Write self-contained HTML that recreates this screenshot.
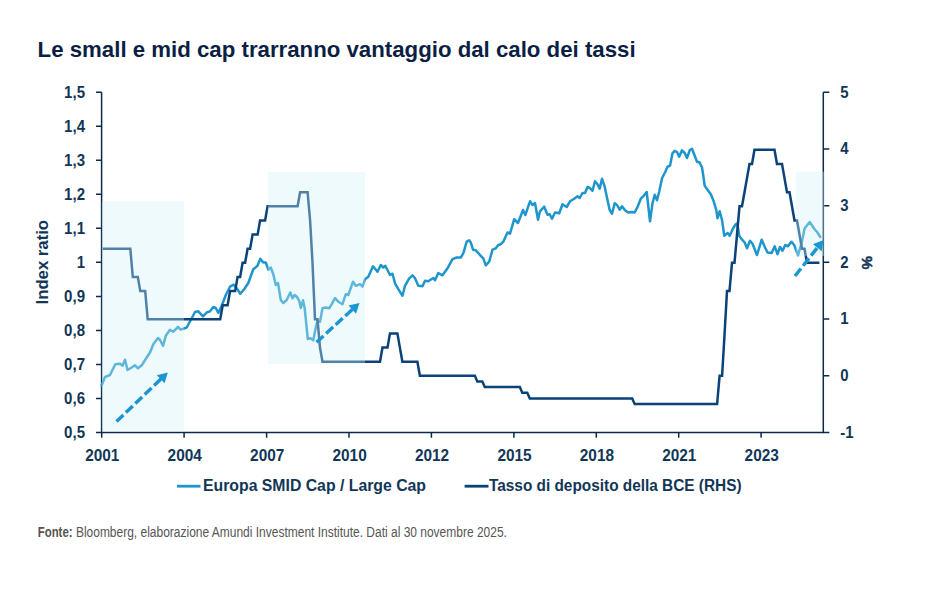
<!DOCTYPE html>
<html><head><meta charset="utf-8"><style>
html,body{margin:0;padding:0;background:#fff;}
body{width:926px;height:600px;overflow:hidden;}
svg{display:block;}
</style></head><body>
<svg width="926" height="600" viewBox="0 0 926 600">
<path d="M101.6,92.3 V432.4 H823.3 V92.3" fill="none" stroke="#0b2a4a" stroke-width="1.5"/>
<path d="M96,92.3H101.6 M96,126.3H101.6 M96,160.3H101.6 M96,194.3H101.6 M96,228.3H101.6 M96,262.3H101.6 M96,296.4H101.6 M96,330.4H101.6 M96,364.4H101.6 M96,398.4H101.6 M96,432.4H101.6 M823.3,92.3H829.3 M823.3,149.0H829.3 M823.3,205.7H829.3 M823.3,262.3H829.3 M823.3,319.0H829.3 M823.3,375.7H829.3 M823.3,432.4H829.3 M101.7,432.4V437.8 M184.1,432.4V437.8 M266.6,432.4V437.8 M349.0,432.4V437.8 M431.4,432.4V437.8 M513.9,432.4V437.8 M596.3,432.4V437.8 M678.7,432.4V437.8 M761.1,432.4V437.8" fill="none" stroke="#0b2a4a" stroke-width="1.5"/>
<polyline points="101.7,385.3 105.0,377.0 110.0,375.0 115.3,364.2 120.0,363.8 122.5,365.8 125.0,359.7 127.5,370.0 131.7,367.5 135.0,365.3 138.0,368.3 141.7,365.3 146.7,357.5 150.0,352.5 153.3,344.2 158.0,338.0 160.0,340.0 163.0,345.8 165.8,335.8 170.0,329.7 173.3,331.7 178.0,327.0 180.8,329.7 186.7,327.5 190.8,320.0 195.0,312.0 198.3,311.3 203.0,316.3 206.7,312.5 210.0,311.3 213.3,307.0 215.8,308.0 218.3,313.0 221.7,305.8 225.8,295.0 230.0,286.7 233.7,284.7 236.7,288.3 240.3,293.7 244.2,289.2 248.3,283.0 253.3,269.2 257.5,265.8 260.3,258.7 263.3,262.5 265.8,262.5 268.3,269.7 270.8,267.5 273.3,274.2 275.8,285.0 278.0,283.0 280.8,300.0 283.3,303.0 286.7,300.0 290.3,292.5 292.5,298.3 294.7,295.0 297.0,297.0 299.2,300.8 300.8,308.0 303.0,300.3 304.7,308.3 307.8,339.0 310.5,338.2 313.3,340.2 315.8,327.5 317.5,320.8 320.0,321.7 322.5,308.3 325.8,307.5 329.2,308.3 331.7,304.2 335.0,298.0 338.3,301.7 342.5,304.2 345.8,294.2 348.3,295.0 353.0,281.7 355.8,285.8 360.0,284.2 362.5,286.7 365.0,279.2 368.3,276.7 373.0,266.3 377.5,271.7 380.8,265.0 383.3,267.5 385.3,265.8 387.5,270.0 390.0,275.0 392.5,273.7 395.0,283.3 398.3,289.2 402.5,295.8 405.0,285.8 409.2,278.3 412.5,275.3 415.0,278.3 418.3,285.8 422.5,286.3 425.0,280.8 428.3,281.3 431.3,279.2 433.3,278.0 435.0,280.3 438.3,273.0 442.5,275.3 447.5,268.3 452.5,259.2 456.7,257.5 460.8,257.5 463.3,253.3 466.7,241.7 469.2,240.3 470.8,242.5 473.0,249.7 475.8,250.3 480.8,255.8 483.3,258.3 485.8,265.3 489.2,261.7 492.5,249.7 495.8,248.3 498.3,245.0 500.8,244.2 503.3,241.7 507.5,232.5 510.0,233.7 514.2,219.2 518.0,223.0 523.0,210.0 525.3,215.0 530.0,201.3 532.5,205.0 535.0,203.0 538.0,219.7 540.0,211.3 544.2,206.7 547.5,214.7 549.7,214.2 552.0,218.7 555.0,212.5 559.2,213.3 562.5,204.2 566.7,207.0 570.0,201.3 574.2,198.7 577.5,196.3 579.7,198.0 582.5,193.0 585.0,193.0 587.5,187.0 590.0,188.0 592.5,190.8 595.0,181.3 597.5,184.2 599.7,188.7 602.0,178.7 604.7,186.7 607.5,200.0 609.7,210.0 612.0,213.7 614.7,203.3 617.0,205.0 619.7,209.7 622.0,206.3 625.0,210.3 628.0,212.5 631.3,212.0 634.7,212.5 637.5,207.0 640.8,198.7 643.7,195.8 646.7,192.0 650.0,221.3 652.5,203.3 654.7,194.7 657.0,200.3 659.2,191.7 662.0,178.3 665.0,172.5 667.5,166.7 670.0,165.8 672.5,153.3 674.7,150.8 677.0,152.0 679.2,156.7 682.0,150.3 684.7,153.0 687.0,158.0 689.7,150.3 692.0,148.7 694.7,155.8 697.0,161.7 699.7,162.5 702.0,167.5 703.3,175.8 704.7,185.8 707.5,189.7 710.8,194.2 713.7,201.3 716.3,210.0 717.5,218.3 719.7,211.3 722.0,220.0 724.3,235.7 727.7,233.0 729.7,235.7 733.0,228.5 735.5,224.3 737.3,223.5 739.2,235.8 741.7,239.2 744.7,242.5 747.0,248.3 750.0,240.8 752.5,243.7 757.0,255.0 761.7,239.7 765.0,247.5 767.5,252.5 771.7,253.0 774.7,246.3 777.5,254.2 780.0,247.0 782.5,250.8 785.3,245.0 788.0,246.3 791.3,241.7 794.2,245.0 798.0,255.3 801.7,242.5 804.7,228.3 809.7,222.0 814.2,228.7 817.5,232.5 820.3,237.0" fill="none" stroke="#1e95cc" stroke-width="2.5" stroke-linejoin="round" stroke-linecap="round"/>
<polyline points="102.8,248.7 130.3,248.7 132.8,276.9 137.8,276.9 140.3,291.1 145.2,291.1 147.7,319.3 220.2,319.3 222.7,305.2 227.6,305.2 230.1,291.1 235.1,291.1 237.6,276.9 240.1,276.9 242.6,262.8 245.1,262.8 247.6,248.7 250.1,248.7 252.6,234.6 257.6,234.6 260.1,220.4 265.1,220.4 267.6,206.3 297.6,206.3 300.1,192.2 307.6,192.2 310.1,220.4 312.5,262.8 315.0,319.3 317.5,319.3 320.0,347.6 322.5,361.7 380.0,361.7 382.5,347.6 387.5,347.6 390.0,333.4 397.4,333.4 399.9,347.6 402.4,361.7 417.4,361.7 419.9,375.8 474.9,375.8 477.3,381.4 482.3,381.4 484.8,387.1 519.8,387.1 522.3,392.8 527.3,392.8 529.8,398.4 632.2,398.4 634.7,404.1 717.1,404.1 719.6,375.8 722.1,375.8 724.6,333.4 727.0,291.1 729.5,291.1 732.0,262.8 734.5,262.8 737.0,234.6 739.5,206.3 742.0,206.3 744.5,192.2 747.0,178.1 749.5,163.9 752.0,163.9 754.5,149.8 774.5,149.8 777.0,163.9 782.0,163.9 784.5,178.1 787.0,192.2 789.5,192.2 792.0,206.3 794.5,220.4 797.0,220.4 799.5,234.6 802.0,248.7 804.5,248.7 807.0,262.8 819.4,262.8" fill="none" stroke="#0a427a" stroke-width="2.5" stroke-linejoin="miter"/>
<rect x="101.8" y="201.5" width="82.2" height="230.1" fill="rgba(208,241,247,0.36)"/>
<rect x="267.8" y="172" width="97.2" height="192" fill="rgba(208,241,247,0.36)"/>
<rect x="795.8" y="171.7" width="28.7" height="84.3" fill="rgba(208,241,247,0.36)"/>
<line x1="116.5" y1="421.5" x2="161.4" y2="378.6" stroke="#1b96d0" stroke-width="3.4" stroke-dasharray="9.5,3.5"/><polygon points="167.8,372.5 164.6,383.3 156.8,375.2" fill="#1b96d0"/>
<line x1="316.5" y1="342.3" x2="353.0" y2="308.9" stroke="#1b96d0" stroke-width="3.4" stroke-dasharray="9.5,3.5"/><polygon points="359.5,303.0 356.0,313.7 348.5,305.5" fill="#1b96d0"/>
<line x1="795.0" y1="276.0" x2="818.0" y2="246.9" stroke="#1b96d0" stroke-width="3.4" stroke-dasharray="9.5,3.5"/><polygon points="823.5,240.0 821.8,251.2 813.0,244.2" fill="#1b96d0"/>
<text x="37.6" y="56.5" font-family="Liberation Sans, sans-serif" font-weight="bold" font-size="22.5" fill="#0b1f45" textLength="598" lengthAdjust="spacingAndGlyphs">Le small e mid cap trarranno vantaggio dal calo dei tassi</text>
<text x="85" y="97.6" font-family="Liberation Sans, sans-serif" font-weight="bold" font-size="16" fill="#123657" text-anchor="end" textLength="20.9" lengthAdjust="spacingAndGlyphs">1,5</text>
<text x="85" y="131.6" font-family="Liberation Sans, sans-serif" font-weight="bold" font-size="16" fill="#123657" text-anchor="end" textLength="20.9" lengthAdjust="spacingAndGlyphs">1,4</text>
<text x="85" y="165.6" font-family="Liberation Sans, sans-serif" font-weight="bold" font-size="16" fill="#123657" text-anchor="end" textLength="20.9" lengthAdjust="spacingAndGlyphs">1,3</text>
<text x="85" y="199.6" font-family="Liberation Sans, sans-serif" font-weight="bold" font-size="16" fill="#123657" text-anchor="end" textLength="20.9" lengthAdjust="spacingAndGlyphs">1,2</text>
<text x="85" y="233.6" font-family="Liberation Sans, sans-serif" font-weight="bold" font-size="16" fill="#123657" text-anchor="end" textLength="20.9" lengthAdjust="spacingAndGlyphs">1,1</text>
<text x="85" y="267.6" font-family="Liberation Sans, sans-serif" font-weight="bold" font-size="16" fill="#123657" text-anchor="end" textLength="8.3" lengthAdjust="spacingAndGlyphs">1</text>
<text x="85" y="301.7" font-family="Liberation Sans, sans-serif" font-weight="bold" font-size="16" fill="#123657" text-anchor="end" textLength="20.9" lengthAdjust="spacingAndGlyphs">0,9</text>
<text x="85" y="335.7" font-family="Liberation Sans, sans-serif" font-weight="bold" font-size="16" fill="#123657" text-anchor="end" textLength="20.9" lengthAdjust="spacingAndGlyphs">0,8</text>
<text x="85" y="369.7" font-family="Liberation Sans, sans-serif" font-weight="bold" font-size="16" fill="#123657" text-anchor="end" textLength="20.9" lengthAdjust="spacingAndGlyphs">0,7</text>
<text x="85" y="403.7" font-family="Liberation Sans, sans-serif" font-weight="bold" font-size="16" fill="#123657" text-anchor="end" textLength="20.9" lengthAdjust="spacingAndGlyphs">0,6</text>
<text x="85" y="437.7" font-family="Liberation Sans, sans-serif" font-weight="bold" font-size="16" fill="#123657" text-anchor="end" textLength="20.9" lengthAdjust="spacingAndGlyphs">0,5</text>
<text x="840.3" y="97.6" font-family="Liberation Sans, sans-serif" font-weight="bold" font-size="16" fill="#123657" textLength="8.3" lengthAdjust="spacingAndGlyphs">5</text>
<text x="840.3" y="154.3" font-family="Liberation Sans, sans-serif" font-weight="bold" font-size="16" fill="#123657" textLength="8.3" lengthAdjust="spacingAndGlyphs">4</text>
<text x="840.3" y="211.0" font-family="Liberation Sans, sans-serif" font-weight="bold" font-size="16" fill="#123657" textLength="8.3" lengthAdjust="spacingAndGlyphs">3</text>
<text x="840.3" y="267.6" font-family="Liberation Sans, sans-serif" font-weight="bold" font-size="16" fill="#123657" textLength="8.3" lengthAdjust="spacingAndGlyphs">2</text>
<text x="840.3" y="324.3" font-family="Liberation Sans, sans-serif" font-weight="bold" font-size="16" fill="#123657" textLength="8.3" lengthAdjust="spacingAndGlyphs">1</text>
<text x="840.3" y="381.0" font-family="Liberation Sans, sans-serif" font-weight="bold" font-size="16" fill="#123657" textLength="8.3" lengthAdjust="spacingAndGlyphs">0</text>
<text x="840.3" y="437.7" font-family="Liberation Sans, sans-serif" font-weight="bold" font-size="16" fill="#123657" textLength="13.3" lengthAdjust="spacingAndGlyphs">-1</text>
<text x="102.3" y="460.5" font-family="Liberation Sans, sans-serif" font-weight="bold" font-size="16" fill="#123657" text-anchor="middle" textLength="34.2" lengthAdjust="spacingAndGlyphs">2001</text>
<text x="184.7" y="460.5" font-family="Liberation Sans, sans-serif" font-weight="bold" font-size="16" fill="#123657" text-anchor="middle" textLength="34.2" lengthAdjust="spacingAndGlyphs">2004</text>
<text x="267.2" y="460.5" font-family="Liberation Sans, sans-serif" font-weight="bold" font-size="16" fill="#123657" text-anchor="middle" textLength="34.2" lengthAdjust="spacingAndGlyphs">2007</text>
<text x="349.6" y="460.5" font-family="Liberation Sans, sans-serif" font-weight="bold" font-size="16" fill="#123657" text-anchor="middle" textLength="34.2" lengthAdjust="spacingAndGlyphs">2010</text>
<text x="432.0" y="460.5" font-family="Liberation Sans, sans-serif" font-weight="bold" font-size="16" fill="#123657" text-anchor="middle" textLength="34.2" lengthAdjust="spacingAndGlyphs">2012</text>
<text x="514.5" y="460.5" font-family="Liberation Sans, sans-serif" font-weight="bold" font-size="16" fill="#123657" text-anchor="middle" textLength="34.2" lengthAdjust="spacingAndGlyphs">2015</text>
<text x="596.9" y="460.5" font-family="Liberation Sans, sans-serif" font-weight="bold" font-size="16" fill="#123657" text-anchor="middle" textLength="34.2" lengthAdjust="spacingAndGlyphs">2018</text>
<text x="679.3" y="460.5" font-family="Liberation Sans, sans-serif" font-weight="bold" font-size="16" fill="#123657" text-anchor="middle" textLength="34.2" lengthAdjust="spacingAndGlyphs">2021</text>
<text x="761.7" y="460.5" font-family="Liberation Sans, sans-serif" font-weight="bold" font-size="16" fill="#123657" text-anchor="middle" textLength="34.2" lengthAdjust="spacingAndGlyphs">2023</text>
<text transform="translate(48.3,262.2) rotate(-90)" font-family="Liberation Sans, sans-serif" font-weight="bold" font-size="16" fill="#123657" text-anchor="middle" textLength="84.5" lengthAdjust="spacingAndGlyphs">Index ratio</text>
<text transform="translate(862,262.7) rotate(90)" font-family="Liberation Sans, sans-serif" font-weight="bold" font-size="15" fill="#123657" stroke="#123657" stroke-width="0.5" text-anchor="middle">%</text>
<line x1="177" y1="486.2" x2="200.5" y2="486.2" stroke="#1e95cc" stroke-width="2.8"/>
<text x="203" y="490.6" font-family="Liberation Sans, sans-serif" font-weight="bold" font-size="16" fill="#123657" textLength="223" lengthAdjust="spacingAndGlyphs">Europa SMID Cap / Large Cap</text>
<line x1="464.6" y1="486.2" x2="488.5" y2="486.2" stroke="#0a427a" stroke-width="2.8"/>
<text x="489" y="490.6" font-family="Liberation Sans, sans-serif" font-weight="bold" font-size="16" fill="#123657" textLength="252.5" lengthAdjust="spacingAndGlyphs">Tasso di deposito della BCE (RHS)</text>
<text x="37.8" y="537.3" font-family="Liberation Sans, sans-serif" font-weight="bold" font-size="14" fill="#555555" textLength="34.7" lengthAdjust="spacingAndGlyphs">Fonte:</text>
<text x="75.9" y="537.3" font-family="Liberation Sans, sans-serif" font-size="14" fill="#555555" textLength="431" lengthAdjust="spacingAndGlyphs">Bloomberg, elaborazione Amundi Investment Institute. Dati al 30 novembre 2025.</text>
</svg>
</body></html>
